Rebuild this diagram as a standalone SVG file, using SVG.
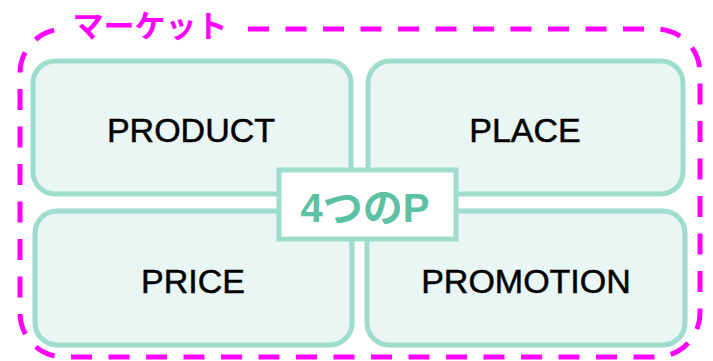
<svg xmlns="http://www.w3.org/2000/svg" width="713" height="361" viewBox="0 0 713 361">
<style>
.box{fill:#eaf6f3;stroke:#9edccb;stroke-width:5}
.lbl{font-family:"Liberation Sans",Arial,sans-serif;font-size:34px;fill:#000;stroke:#000;stroke-width:0.5;text-anchor:middle}
</style>
<rect width="713" height="361" fill="#fff"/>
<g id="market">
<path d="M248,29 H656 A44,44 0 0 1 700,73 V313 A44,44 0 0 1 656,357 H64 A44,44 0 0 1 20,313 V73 A44,44 0 0 1 64,29" fill="none" stroke="#ff00ff" stroke-width="5" stroke-dasharray="21 16.5"/>
<text x="150" y="37" font-family="'Noto Sans CJK JP',sans-serif" font-size="31" font-weight="bold" fill="#ff00ff" text-anchor="middle">マーケット</text>
</g>
<g id="product"><rect class="box" x="33" y="61" width="318" height="133" rx="22"/><text class="lbl" x="191" y="142">PRODUCT</text></g>
<g id="place"><rect class="box" x="368" y="61" width="315" height="133" rx="22"/><text class="lbl" x="525" y="142">PLACE</text></g>
<g id="price"><rect class="box" x="35" y="211" width="317" height="134" rx="22"/><text class="lbl" x="193" y="293">PRICE</text></g>
<g id="promotion"><rect class="box" x="367" y="211" width="318" height="134" rx="22"/><text class="lbl" x="526" y="293">PROMOTION</text></g>
<g id="center"><rect x="279" y="170" width="177" height="69" fill="#fff" stroke="#9edccb" stroke-width="5"/><text x="365" y="222" font-family="'Liberation Sans','Noto Sans CJK JP',sans-serif" font-size="40" font-weight="bold" fill="#5cc0a3" text-anchor="middle">4つのP</text></g>
<g id="connectors"></g>
</svg>
